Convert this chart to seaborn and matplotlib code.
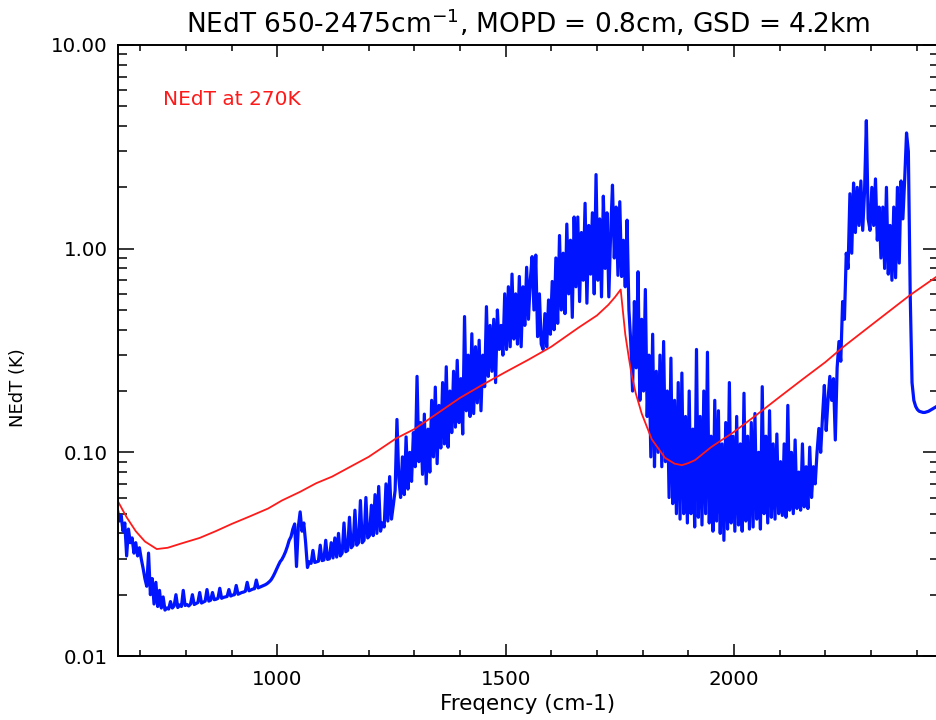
import numpy as np
import pandas as pd
import matplotlib
matplotlib.use("Agg")
import matplotlib.pyplot as plt
import seaborn as sns
from matplotlib.ticker import MultipleLocator, LogLocator, FuncFormatter, NullFormatter

# Spectral grid of the instrument noise spectrum (cm-1), 4 cm-1 sampling
freq = np.arange(650, 2450, 4)

# Instrument NEdT (K) on the grid above, one row per 40 cm-1
nedt = [
    0.052, 0.046, 0.049, 0.041, 0.045, 0.031, 0.042, 0.036, 0.038, 0.032,   # 650
    0.036, 0.031, 0.034, 0.030, 0.027, 0.024, 0.022, 0.032, 0.020, 0.024,   # 690
    0.018, 0.023, 0.0175, 0.021, 0.0172, 0.0195, 0.0168, 0.0172, 0.0170, 0.0185,  # 730
    0.0172, 0.0176, 0.0200, 0.0173, 0.0178, 0.0175, 0.0210, 0.0177, 0.0179, 0.0176,  # 770
    0.0180, 0.0200, 0.0179, 0.0181, 0.0183, 0.0205, 0.0182, 0.0184, 0.0186, 0.0212,  # 810
    0.0186, 0.0188, 0.0205, 0.0189, 0.0190, 0.0192, 0.0215, 0.0192, 0.0194, 0.0195,  # 850
    0.0196, 0.0212, 0.0197, 0.0199, 0.0200, 0.0222, 0.0201, 0.0203, 0.0205, 0.0206,  # 890
    0.0208, 0.0230, 0.0209, 0.0211, 0.0213, 0.0214, 0.0236, 0.0216, 0.0218, 0.0220,  # 930
    0.0222, 0.0224, 0.0227, 0.0231, 0.0236, 0.0244, 0.0254, 0.0266, 0.0278, 0.0290,  # 970
    0.0298, 0.0310, 0.0325, 0.0345, 0.0370, 0.0385, 0.0420, 0.0445, 0.0275, 0.0430,  # 1010
    0.0510, 0.0410, 0.0450, 0.0360, 0.0272, 0.0290, 0.0285, 0.0330, 0.0288, 0.0290,  # 1050
    0.0292, 0.0350, 0.0294, 0.0296, 0.0370, 0.0298, 0.0300, 0.0360, 0.0303, 0.0380,  # 1090
    0.0306, 0.0400, 0.0310, 0.0320, 0.0450, 0.0325, 0.0330, 0.0480, 0.0340, 0.0350,  # 1130
    0.0520, 0.0350, 0.0360, 0.0580, 0.0360, 0.0370, 0.0600, 0.0380, 0.0390, 0.0550,  # 1170
    0.0390, 0.0620, 0.0400, 0.0680, 0.0410, 0.0450, 0.0430, 0.0700, 0.0460, 0.0760,  # 1210
    0.0470, 0.0550, 0.0650, 0.1450, 0.0750, 0.0600, 0.0950, 0.0620, 0.1190, 0.0660,  # 1250
    0.100, 0.072, 0.125, 0.085, 0.236, 0.090, 0.140, 0.078, 0.154, 0.070,   # 1290
    0.130, 0.080, 0.180, 0.095, 0.209, 0.088, 0.170, 0.105, 0.220, 0.110,   # 1330
    0.263, 0.106, 0.200, 0.125, 0.250, 0.133, 0.283, 0.140, 0.230, 0.123,   # 1370
    0.464, 0.160, 0.300, 0.150, 0.382, 0.155, 0.330, 0.175, 0.355, 0.160,   # 1410
    0.300, 0.210, 0.519, 0.236, 0.420, 0.250, 0.450, 0.220, 0.500, 0.320,   # 1450
    0.420, 0.300, 0.600, 0.320, 0.650, 0.330, 0.750, 0.360, 0.600, 0.340,   # 1490
    0.730, 0.330, 0.650, 0.420, 0.810, 0.450, 0.700, 0.914, 0.500, 0.930,   # 1530
    0.370, 0.600, 0.340, 0.320, 0.480, 0.330, 0.560, 0.380, 0.690, 0.400,   # 1570
    0.900, 0.430, 1.160, 0.500, 0.950, 0.480, 1.320, 0.600, 1.100, 0.460,   # 1610
    1.430, 0.650, 1.430, 0.550, 1.200, 0.700, 1.670, 0.540, 1.300, 0.750,   # 1650
    1.500, 0.600, 2.310, 0.700, 1.400, 0.580, 1.810, 0.800, 1.500, 0.580,   # 1690
    1.200, 2.050, 0.900, 1.600, 0.740, 1.700, 0.730, 1.100, 0.650, 1.380,   # 1730
    0.500, 0.350, 0.200, 0.550, 0.260, 0.770, 0.180, 0.450, 0.200, 0.630,   # 1770
    0.150, 0.300, 0.095, 0.380, 0.085, 0.250, 0.100, 0.300, 0.085, 0.350,   # 1810
    0.090, 0.200, 0.060, 0.290, 0.056, 0.180, 0.050, 0.220, 0.047, 0.245,   # 1850
    0.050, 0.150, 0.045, 0.200, 0.050, 0.130, 0.043, 0.320, 0.048, 0.150,   # 1890
    0.044, 0.200, 0.050, 0.310, 0.045, 0.120, 0.041, 0.180, 0.046, 0.160,   # 1930
    0.040, 0.110, 0.037, 0.140, 0.042, 0.220, 0.045, 0.120, 0.041, 0.150,   # 1970
    0.044, 0.110, 0.041, 0.195, 0.046, 0.120, 0.042, 0.140, 0.043, 0.155,   # 2010
    0.047, 0.100, 0.042, 0.210, 0.050, 0.120, 0.045, 0.160, 0.048, 0.110,   # 2050
    0.047, 0.123, 0.050, 0.090, 0.049, 0.110, 0.048, 0.170, 0.052, 0.100,   # 2090
    0.050, 0.115, 0.053, 0.080, 0.052, 0.110, 0.054, 0.085, 0.053, 0.106,   # 2130
    0.060, 0.085, 0.070, 0.100, 0.131, 0.100, 0.150, 0.213, 0.128, 0.180,   # 2170
    0.236, 0.180, 0.230, 0.115, 0.260, 0.350, 0.280, 0.550, 0.450, 0.950,   # 2210
    0.800, 1.860, 0.950, 2.100, 1.200, 2.000, 1.300, 2.150, 1.230, 1.900,   # 2250
    4.250, 1.400, 1.230, 2.000, 1.300, 2.200, 1.100, 1.600, 0.900, 1.600,   # 2290
    0.800, 2.000, 0.750, 1.300, 0.700, 1.600, 0.720, 2.000, 0.850, 2.150,   # 2330
    1.400, 2.200, 3.700, 3.000, 0.600, 0.220, 0.180, 0.168, 0.162, 0.159,   # 2370
    0.158, 0.157, 0.157, 0.158, 0.159, 0.161, 0.163, 0.165, 0.167, 0.169,   # 2410
]

# Theoretical NEdT for a 270 K scene
ref_freq = [650, 670, 690, 710, 736, 760, 790, 830, 865, 900,
            940, 980, 1010, 1050, 1085, 1120, 1160, 1200, 1260, 1300,
            1350, 1400, 1450, 1500, 1550, 1600, 1660, 1700, 1725, 1740,
            1752, 1762, 1770, 1776, 1785, 1798, 1820, 1849, 1870, 1886,
            1900, 1915, 1950, 2000, 2050, 2100, 2150, 2200, 2240, 2300,
            2385, 2448]
ref_nedt = [0.058, 0.048, 0.041, 0.0365, 0.0335, 0.034, 0.0357, 0.038, 0.041, 0.0445,
            0.0485, 0.053, 0.058, 0.064, 0.0705, 0.076, 0.085, 0.095, 0.117, 0.130,
            0.155, 0.185, 0.215, 0.248, 0.285, 0.330, 0.410, 0.470, 0.530, 0.580,
            0.630, 0.380, 0.290, 0.240, 0.195, 0.155, 0.116, 0.094, 0.088, 0.0865,
            0.0885, 0.0916, 0.106, 0.126, 0.153, 0.187, 0.228, 0.277, 0.330, 0.420,
            0.590, 0.740]

ytick_vals = [0.01, 0.1, 1.0, 10.0]
xtick_vals = [1000, 1500, 2000]

spec = pd.DataFrame({"freq": freq, "nedt": nedt})
ref = pd.DataFrame({"freq": ref_freq, "nedt": ref_nedt})

sns.set_style("ticks")
plt.rcParams["font.family"] = ["DejaVu Sans"]
plt.rcParams["mathtext.fontset"] = "dejavusans"
for key in ["text.color", "axes.labelcolor", "xtick.color", "ytick.color",
            "xtick.labelcolor", "ytick.labelcolor"]:
    plt.rcParams[key] = "black"

fig = plt.figure(figsize=(9.36, 7.2), dpi=100)
ax = fig.add_axes([117.5 / 936, 64 / 720, 821 / 936, 611 / 720])

sns.lineplot(data=spec, x="freq", y="nedt", ax=ax, color="#0014ff",
             linewidth=2.3, estimator=None, sort=False)
sns.lineplot(data=ref, x="freq", y="nedt", ax=ax, color="#ff1a1a",
             linewidth=1.3, estimator=None, sort=False)

ax.set_yscale("log")
ax.set_xlim(650, 2448)
ax.set_ylim(0.01, 10)

ax.xaxis.set_major_locator(plt.FixedLocator(xtick_vals))
ax.xaxis.set_minor_locator(MultipleLocator(100))
ax.yaxis.set_major_locator(plt.FixedLocator(ytick_vals))
ax.yaxis.set_minor_locator(LogLocator(base=10, subs=range(2, 10)))
ax.yaxis.set_major_formatter(FuncFormatter(lambda v, p: f"{v:.2f}"))
ax.yaxis.set_minor_formatter(NullFormatter())

ax.tick_params(axis="x", which="major", direction="in", length=8.8, width=1.1,
               top=True, bottom=True, labelsize=14.3, pad=10, colors="black")
ax.tick_params(axis="x", which="minor", direction="in", length=4.4, width=1.1,
               top=True, bottom=True, colors="black")
ax.tick_params(axis="y", which="major", direction="in", length=11.5, width=1.1,
               left=True, right=True, labelsize=14.3, pad=7, colors="black")
ax.tick_params(axis="y", which="minor", direction="in", length=6.5, width=1.1,
               left=True, right=True, colors="black")

for side in ["left", "right", "top", "bottom"]:
    ax.spines[side].set_visible(True)
    ax.spines[side].set_linewidth(1.4)
    ax.spines[side].set_color("black")

ax.set_title("NEdT 650-2475cm$^{-1}$, MOPD = 0.8cm, GSD = 4.2km",
             fontsize=19, pad=9, color="black")
ax.set_xlabel("Freqency (cm-1)", fontsize=15.5, labelpad=4, color="black")
ax.set_ylabel("NEdT (K)", fontsize=13, color="black")
ax.yaxis.set_label_coords(-0.11, 0.44)

ax.text(0.0554, 0.91, "NEdT at 270K", color="#ff1a1a", fontsize=14.5,
        va="center", ha="left", transform=ax.transAxes)

fig.savefig("out.png", dpi=100)
